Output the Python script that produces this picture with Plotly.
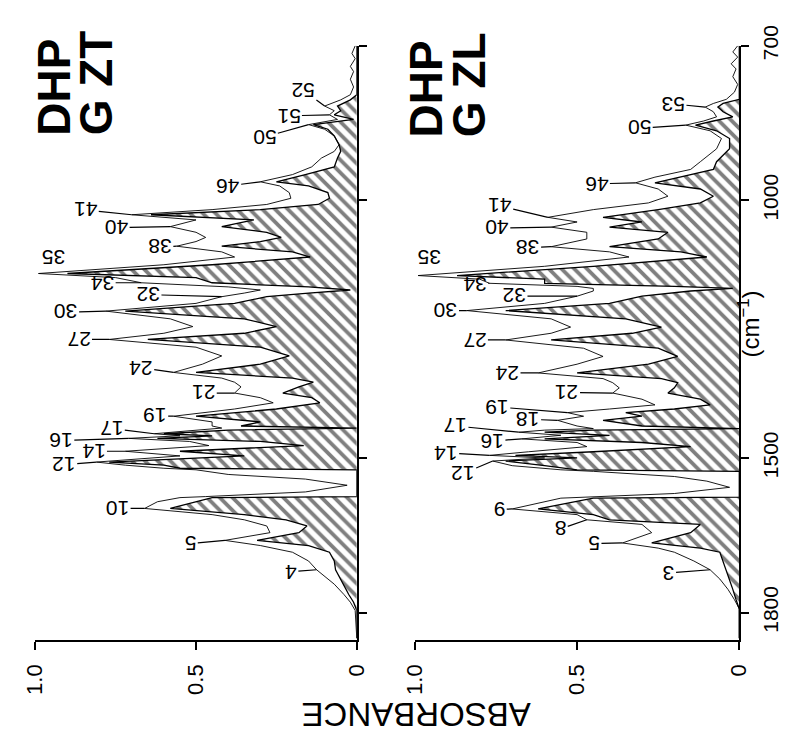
import plotly.graph_objects as go

# ---------------- data ----------------
# DHP G ZT : wavenumber (cm-1), hatched spectrum, outline spectrum (absorbance)
zt_wn = [700, 715, 725, 740, 750, 765, 780, 795, 805, 817, 826, 834, 843, 853, 862, 875,
         892, 905, 918, 935, 950, 964, 972, 985, 996, 1008, 1018, 1028, 1038, 1051, 1062,
         1072, 1080, 1089, 1100, 1110, 1125, 1142, 1150, 1160, 1168, 1174, 1180, 1187,
         1200, 1215, 1230, 1245, 1258, 1270, 1285, 1302, 1318, 1334, 1345, 1353, 1362,
         1374, 1383, 1393, 1405, 1419, 1430, 1438, 1442, 1446, 1453, 1457, 1462, 1468,
         1476, 1487, 1496, 1508, 1514, 1520, 1523, 1532, 1541, 1553, 1566, 1575, 1577,
         1585, 1598, 1610, 1620, 1632, 1645, 1660, 1670, 1683, 1700, 1717, 1730, 1745,
         1765, 1780, 1796, 1850]
zt_hatched = [0, 0, 0, 0, 0, 0, 0, 0, 0.02, 0.06, 0.05, 0.07, 0.01, 0.135, 0.09, 0.07,
              0.055, 0.05, 0.06, 0.07, 0.16, 0.25, 0.15, 0.09, 0.085, 0.12, 0.3, 0.64, 0.32,
              0.42, 0.28, 0.235, 0.3, 0.42, 0.2, 0.145, 0.45, 0.9, 0.5, 0.45, 0.15, 0.02,
              0.15, 0.28, 0.38, 0.72, 0.35, 0.25, 0.35, 0.65, 0.3, 0.21, 0.3, 0.5, 0.2, 0.135,
              0.18, 0.23, 0.14, 0.115, 0.25, 0.5, 0.3, 0.36, 0.0, 0.4, 0.6, 0.45, 0.62, 0.3,
              0.165, 0.55, 0.35, 0.77, 0.6, 0.55, 0.0, 0.0, 0.0, 0.0, 0.0, 0.0, 0.45,
              0.5, 0.58, 0.35, 0.22, 0.155, 0.18, 0.31, 0.15, 0.085, 0.07, 0.066, 0.055, 0.04,
              0.025, 0.01, 0.0, 0.0]
zt_line = [0.005, 0.015, 0.005, 0.02, 0.01, 0.02, 0.01, 0.02, 0.05, 0.10, 0.07, 0.085, 0.06,
           0.15, 0.10, 0.07, 0.055, 0.07, 0.11, 0.14, 0.20, 0.30, 0.24, 0.21, 0.205, 0.28,
           0.45, 0.70, 0.5, 0.58, 0.5, 0.47, 0.5, 0.56, 0.42, 0.38, 0.6, 0.99, 0.75, 0.67,
           0.4, 0.3, 0.35, 0.42, 0.5, 0.78, 0.58, 0.51, 0.6, 0.77, 0.5, 0.42, 0.48, 0.57,
           0.42, 0.38, 0.36, 0.38, 0.3, 0.26, 0.38, 0.57, 0.45, 0.45, 0.42, 0.5, 0.63, 0.55,
           0.71, 0.52, 0.46, 0.72, 0.55, 0.81, 0.72, 0.6, 0.5, 0.4, 0.16, 0.03, 0.16, 0.47,
           0.55, 0.62, 0.66, 0.45, 0.35, 0.28, 0.27, 0.41, 0.3, 0.2, 0.15, 0.125, 0.1, 0.07,
           0.04, 0.02, 0.005, 0.0]

# DHP G ZL
zl_wn = [700, 712, 722, 735, 745, 760, 775, 790, 804, 812, 819, 828, 838, 846, 854, 865,
         880, 900, 925, 940, 955, 966, 978, 992, 1005, 1018, 1033, 1042, 1052, 1062, 1075,
         1090, 1100, 1110, 1128, 1146, 1153, 1161, 1167, 1171, 1176, 1186, 1200, 1214,
         1230, 1246, 1258, 1271, 1287, 1303, 1318, 1335, 1346, 1354, 1364, 1374, 1386,
         1397, 1405, 1412, 1419, 1427, 1438, 1443, 1446, 1450, 1456, 1463, 1470, 1478,
         1488, 1495, 1500, 1506, 1515, 1523, 1526, 1536, 1545, 1557, 1569, 1576, 1578,
         1599, 1610, 1620, 1629, 1645, 1665, 1675, 1683, 1700, 1717, 1735, 1755, 1775,
         1793, 1850]
zl_hatched = [0, 0, 0, 0, 0, 0, 0, 0, 0.0, 0.05, 0.066, 0.05, 0.02, 0.08, 0.135, 0.07,
              0.03, 0.03, 0.07, 0.08, 0.18, 0.26, 0.12, 0.08, 0.12, 0.25, 0.42, 0.3, 0.40,
              0.22, 0.25, 0.40, 0.18, 0.1, 0.45, 0.87, 0.6, 0.6, 0.2, 0.02, 0.15, 0.3, 0.4,
              0.72, 0.35, 0.24, 0.33, 0.58, 0.25, 0.19, 0.28, 0.5, 0.24, 0.19, 0.2, 0.22,
              0.12, 0.09, 0.2, 0.35, 0.3, 0.42, 0.3, 0.0, 0.45, 0.6, 0.4, 0.6, 0.3, 0.15,
              0.45, 0.69, 0.5, 0.72, 0.6, 0.5, 0.0, 0.0, 0.0, 0.0, 0.0, 0.0, 0.45,
              0.62, 0.45, 0.4, 0.12, 0.15, 0.27, 0.12, 0.06, 0.05, 0.04, 0.03, 0.02, 0.01,
              0.0, 0.0]
zl_line = [0.005, 0.02, 0.005, 0.025, 0.01, 0.02, 0.005, 0.015, 0.04, 0.08, 0.105, 0.08,
           0.07, 0.11, 0.165, 0.09, 0.055, 0.07, 0.12, 0.15, 0.26, 0.32, 0.25, 0.22, 0.28,
           0.45, 0.59, 0.5, 0.58, 0.47, 0.47, 0.58, 0.4, 0.34, 0.6, 0.99, 0.8, 0.77, 0.5,
           0.45, 0.45, 0.5, 0.6, 0.84, 0.58, 0.52, 0.58, 0.72, 0.48, 0.42, 0.5, 0.62, 0.42,
           0.39, 0.37, 0.39, 0.3, 0.26, 0.4, 0.53, 0.48, 0.56, 0.5, 0.45, 0.6, 0.68, 0.55,
           0.67, 0.5, 0.47, 0.65, 0.77, 0.6, 0.76, 0.7, 0.55, 0.45, 0.2, 0.1, 0.03, 0.2,
           0.45, 0.55, 0.70, 0.5, 0.47, 0.3, 0.27, 0.36, 0.25, 0.2, 0.14, 0.09, 0.06, 0.035,
           0.015, 0.0, 0.0]

# peak labels and the band each one marks
zt_labels = ["52", "51", "50", "46", "41", "40", "38", "35", "34", "32", "30", "27", "24",
             "21", "19", "17", "16", "14", "12", "10", "5", "4"]
zt_label_wn = [817, 834, 853, 964, 1028, 1051, 1089, 1142, 1160, 1187, 1215, 1270, 1334,
               1374, 1419, 1453, 1462, 1487, 1508, 1598, 1660, 1717]
zl_labels = ["53", "50", "46", "41", "40", "38", "35", "34", "32", "30", "27", "24", "21",
             "19", "18", "17", "16", "14", "12", "9", "8", "5", "3"]
zl_label_wn = [819, 854, 966, 1033, 1052, 1090, 1146, 1161, 1186, 1214, 1271, 1335, 1374,
               1412, 1427, 1450, 1463, 1495, 1506, 1599, 1620, 1665, 1717]

abs_ticks = [1.0, 0.5, 0.0]
abs_ticktext = ["1.0", "0.5", "0"]
wn_ticks = [700, 1000, 1500, 1800]
wn_ticktext = ["700", "1000", "1500", "1800"]

# ---------------- layout-only positions of the peak-number texts ----------------
zt_text_pos = [(0.166, 787), (0.211, 836), (0.286, 877), (0.40, 972), (0.843, 1019),
               (0.747, 1053), (0.611, 1091), (0.943, 1111), (0.792, 1160), (0.648, 1183),
               (0.904, 1217), (0.864, 1270), (0.672, 1325), (0.476, 1374), (0.627, 1419),
               (0.762, 1443), (0.919, 1466), (0.819, 1487), (0.91, 1513), (0.744, 1598),
               (0.518, 1666), (0.205, 1721)]
zl_text_pos = [(0.203, 813), (0.307, 860), (0.439, 968), (0.737, 1011), (0.746, 1054),
               (0.651, 1092), (0.955, 1111), (0.815, 1162), (0.693, 1186), (0.904, 1214),
               (0.815, 1271), (0.716, 1335), (0.531, 1373), (0.746, 1401), (0.651, 1425),
               (0.875, 1438), (0.761, 1467), (0.905, 1490), (0.851, 1530), (0.74, 1600),
               (0.552, 1638), (0.448, 1666), (0.218, 1723)]
no_leader = {"35"}

W, H = 791, 736
FONT = "Liberation Sans, Arial, sans-serif"

fig = go.Figure()
panels = [
    (zt_wn, zt_hatched, zt_line, zt_labels, zt_label_wn, zt_text_pos, "x", "y"),
    (zl_wn, zl_hatched, zl_line, zl_labels, zl_label_wn, zl_text_pos, "x2", "y2"),
]
annotations = []
for wn, hat, line, labs, labwn, pos, xa, ya in panels:
    fig.add_trace(go.Scatter(
        x=hat, y=wn, mode="lines", fill="tozerox", fillcolor="white",
        fillpattern=dict(shape="\\", fgcolor="black", bgcolor="white", size=9, solidity=0.42),
        line=dict(color="black", width=1.3), xaxis=xa, yaxis=ya, showlegend=False,
        hoverinfo="skip"))
    fig.add_trace(go.Scatter(
        x=line, y=wn, mode="lines", line=dict(color="black", width=0.9),
        xaxis=xa, yaxis=ya, showlegend=False, hoverinfo="skip"))
    for lab, w, (tx, ty) in zip(labs, labwn, pos):
        head = line[wn.index(w)]
        if lab in no_leader:
            annotations.append(dict(x=tx, y=ty, xref=xa, yref=ya, text=lab, showarrow=False,
                                    textangle=180, font=dict(family=FONT, size=21, color="black")))
        else:
            annotations.append(dict(x=head, y=w, xref=xa, yref=ya, ax=tx, ay=ty,
                                    axref=xa, ayref=ya, text=lab, showarrow=True,
                                    arrowhead=0, arrowwidth=1.2, arrowcolor="black",
                                    standoff=0, textangle=180,
                                    font=dict(family=FONT, size=21, color="black")))

# panel titles
def px(x):
    return x / W

def py(y):
    return 1 - y / H

for text, xc, yb in [("DHP", 42, 120), ("G ZT", 86, 120), ("DHP", 427, 122), ("G ZL", 471, 122)]:
    annotations.append(dict(x=px(xc), y=py(yb), xref="paper", yref="paper", text="<b>%s</b>" % text,
                            showarrow=False, textangle=-90, xanchor="center", yanchor="bottom",
                            font=dict(family=FONT, size=46, color="black")))

annotations.append(dict(x=px(778), y=py(312), xref="paper", yref="paper",
                        text="(cm<sup>−1</sup>)", showarrow=False, textangle=-90,
                        font=dict(family=FONT, size=24, color="black")))
annotations.append(dict(x=px(416), y=py(735), xref="paper", yref="paper",
                        text="ABSORBANCE", showarrow=False, textangle=180,
                        font=dict(family=FONT, size=33, color="black")))

ydom = [1 - 637 / H, 1 - 25.5 / H]
xcommon = dict(range=[1.0, 0.0], tickvals=abs_ticks, ticktext=abs_ticktext, tickangle=-90,
               ticks="outside", ticklen=8, tickwidth=1.5, tickcolor="black",
               showline=True, linewidth=1.5, linecolor="black", showgrid=False,
               zeroline=False, ticklabelstandoff=6,
               tickfont=dict(family=FONT, size=22, color="black"), fixedrange=True)
ycommon = dict(range=[1853, 700], tickvals=wn_ticks, ticktext=wn_ticktext, side="right",
               ticks="outside", ticklen=8, tickwidth=1.5, tickcolor="black",
               showline=True, linewidth=1.5, linecolor="black", showgrid=False,
               zeroline=False, tickangle=-90, ticklabelstandoff=4,
               tickfont=dict(family=FONT, size=21, color="black"), fixedrange=True)

fig.update_layout(
    width=W, height=H, margin=dict(l=0, r=0, t=0, b=0),
    paper_bgcolor="white", plot_bgcolor="white", showlegend=False,
    xaxis=dict(domain=[23 / W, 355 / W], anchor="y", **xcommon),
    yaxis=dict(domain=ydom, anchor="x", showticklabels=False, **ycommon),
    xaxis2=dict(domain=[415 / W, 750 / W], anchor="y2", **xcommon),
    yaxis2=dict(domain=ydom, anchor="x2", showticklabels=True, **ycommon),
    annotations=annotations,
)

fig.write_html("out.html")
